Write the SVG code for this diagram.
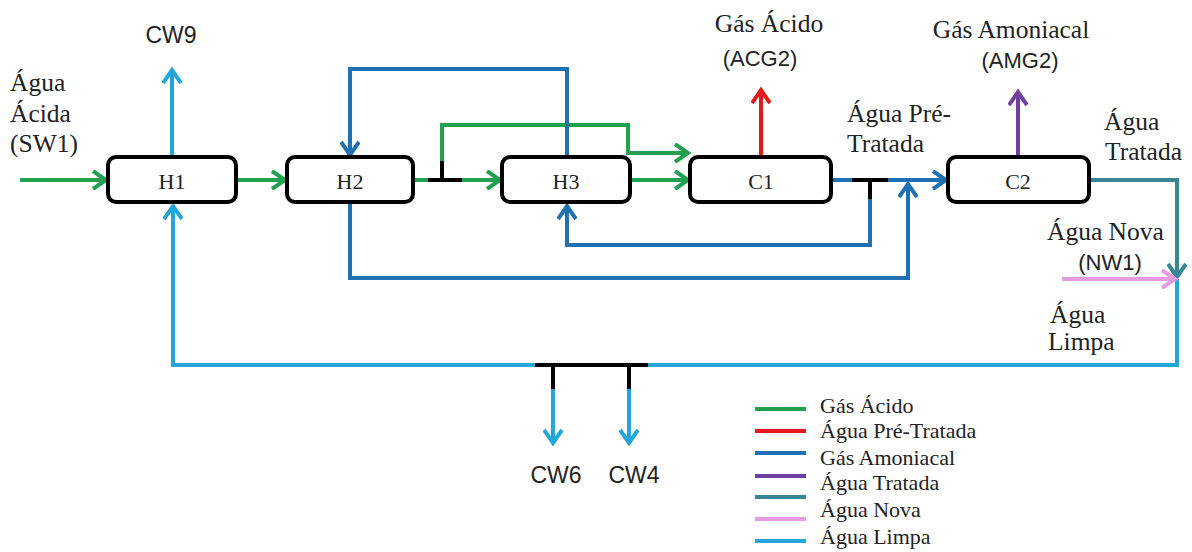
<svg xmlns="http://www.w3.org/2000/svg" width="1192" height="552" viewBox="0 0 1192 552">
<style>
.box{fill:#fff;stroke:#000;stroke-width:4}
.ln{fill:none;stroke-width:4;stroke-linejoin:miter}
.g{stroke:#21a050}.r{stroke:#e3191e}.b{stroke:#2070b4}.p{stroke:#6f3fa0}.t{stroke:#3a8595}.k{stroke:#e59be0}.c{stroke:#25a6d9}.bk{stroke:#000}
.serif{font-family:"Liberation Serif","Times New Roman",serif;fill:#222}
.sans{font-family:"Liberation Sans",Arial,sans-serif;fill:#222}
.lbl{font-size:25.5px}
.nd{font-size:22px;text-anchor:middle}
.sl{font-size:22px}
.cw{font-size:23px}
.lg{font-size:22px}
.mid{text-anchor:middle}
</style>
<defs>
<marker id="aG" markerUnits="userSpaceOnUse" markerWidth="20" markerHeight="20" viewBox="0 0 20 20" refX="16" refY="10" orient="auto"><path d="M3,1 L16,10 L3,19" fill="none" stroke="#21a050" stroke-width="4"/></marker>
<marker id="aR" markerUnits="userSpaceOnUse" markerWidth="20" markerHeight="20" viewBox="0 0 20 20" refX="16" refY="10" orient="auto"><path d="M3,1 L16,10 L3,19" fill="none" stroke="#e3191e" stroke-width="4"/></marker>
<marker id="aB" markerUnits="userSpaceOnUse" markerWidth="20" markerHeight="20" viewBox="0 0 20 20" refX="16" refY="10" orient="auto"><path d="M3,1 L16,10 L3,19" fill="none" stroke="#2070b4" stroke-width="4"/></marker>
<marker id="aP" markerUnits="userSpaceOnUse" markerWidth="20" markerHeight="20" viewBox="0 0 20 20" refX="16" refY="10" orient="auto"><path d="M3,1 L16,10 L3,19" fill="none" stroke="#6f3fa0" stroke-width="4"/></marker>
<marker id="aT" markerUnits="userSpaceOnUse" markerWidth="20" markerHeight="20" viewBox="0 0 20 20" refX="16" refY="10" orient="auto"><path d="M3,1 L16,10 L3,19" fill="none" stroke="#3a8595" stroke-width="4"/></marker>
<marker id="aK" markerUnits="userSpaceOnUse" markerWidth="20" markerHeight="20" viewBox="0 0 20 20" refX="16" refY="10" orient="auto"><path d="M3,1 L16,10 L3,19" fill="none" stroke="#e59be0" stroke-width="4"/></marker>
<marker id="aC" markerUnits="userSpaceOnUse" markerWidth="20" markerHeight="20" viewBox="0 0 20 20" refX="16" refY="10" orient="auto"><path d="M3,1 L16,10 L3,19" fill="none" stroke="#25a6d9" stroke-width="4"/></marker>
</defs>
<rect width="1192" height="552" fill="#fff"/>

<g id="connectors">
<path class="ln g" d="M20,180 H106" marker-end="url(#aG)"/>
<path class="ln g" d="M238,180 H285" marker-end="url(#aG)"/>
<path class="ln g" d="M415,180 H428"/>
<path class="ln bk" d="M428,180 H462"/>
<path class="ln g" d="M462,180 H500" marker-end="url(#aG)"/>
<path class="ln bk" d="M442,180 V160"/>
<path class="ln g" d="M442,161 V125 H628 V153 H688" marker-end="url(#aG)"/>
<path class="ln g" d="M632,180 H688" marker-end="url(#aG)"/>
<path class="ln b" d="M567,155 V69 H350 V155" marker-end="url(#aB)"/>
<path class="ln b" d="M350,204 V278 H908 V184" marker-end="url(#aB)"/>
<path class="ln b" d="M833,180 H852"/>
<path class="ln bk" d="M852,180 H888"/>
<path class="ln b" d="M888,180 H946" marker-end="url(#aB)"/>
<path class="ln bk" d="M870,180 V200"/>
<path class="ln b" d="M870,199 V245 H567 V206" marker-end="url(#aB)"/>
<path class="ln r" d="M761,155 V90" marker-end="url(#aR)"/>
<path class="ln p" d="M1018,155 V92" marker-end="url(#aP)"/>
<path class="ln t" d="M1091,180 H1177 V277" marker-end="url(#aT)"/>
<path class="ln c" d="M1177,279 V365 H648"/>
<path class="ln k" d="M1062,279 H1175" marker-end="url(#aK)"/>
<path class="ln bk" d="M648,365 H535"/>
<path class="ln c" d="M535,365 H173 V206" marker-end="url(#aC)"/>
<path class="ln bk" d="M553,365 V390"/>
<path class="ln c" d="M553,389 V443" marker-end="url(#aC)"/>
<path class="ln bk" d="M629,365 V390"/>
<path class="ln c" d="M629,389 V443" marker-end="url(#aC)"/>
<path class="ln c" d="M172,155 V70" marker-end="url(#aC)"/>
</g>

<g id="H1"><rect class="box" x="108" y="157" width="128" height="45" rx="8"/><text class="serif nd" x="172" y="189">H1</text></g>
<g id="H2"><rect class="box" x="287" y="157" width="126" height="45" rx="8"/><text class="serif nd" x="350" y="189">H2</text></g>
<g id="H3"><rect class="box" x="502" y="157" width="128" height="45" rx="8"/><text class="serif nd" x="566" y="189">H3</text></g>
<g id="C1"><rect class="box" x="690" y="157" width="141" height="45" rx="8"/><text class="serif nd" x="761" y="189">C1</text></g>
<g id="C2"><rect class="box" x="948" y="157" width="141" height="45" rx="8"/><text class="serif nd" x="1018" y="189">C2</text></g>

<g id="labels">
<text class="serif lbl" x="10" y="91">Água</text>
<text class="serif lbl" x="10" y="122">Ácida</text>
<text class="serif lbl" x="10" y="152">(SW1)</text>
<text class="sans cw mid" x="171" y="43">CW9</text>
<text class="serif lbl mid" x="769" y="32">Gás Ácido</text>
<text class="sans sl mid" x="760" y="66">(ACG2)</text>
<text class="serif lbl mid" x="1011" y="38">Gás Amoniacal</text>
<text class="sans sl mid" x="1020" y="68">(AMG2)</text>
<text class="serif lbl" x="847" y="122">Água Pré-</text>
<text class="serif lbl" x="847" y="152">Tratada</text>
<text class="serif lbl" x="1104" y="130">Água</text>
<text class="serif lbl" x="1105" y="160">Tratada</text>
<text class="serif lbl" x="1047" y="240">Água Nova</text>
<text class="sans sl mid" x="1110" y="270">(NW1)</text>
<text class="serif lbl" x="1050" y="323">Água</text>
<text class="serif lbl" x="1048" y="350">Limpa</text>
<text class="sans cw mid" x="556" y="483">CW6</text>
<text class="sans cw mid" x="634" y="483">CW4</text>
</g>

<g id="legend">
<path class="ln g" d="M755,409 H806"/>
<path class="ln r" d="M755,431 H806"/>
<path class="ln b" d="M755,453 H806"/>
<path class="ln p" d="M755,476 H806"/>
<path class="ln t" d="M755,497 H806"/>
<path class="ln k" d="M755,519 H806"/>
<path class="ln c" d="M755,541 H806"/>
<text class="serif lg" x="820" y="413">Gás Ácido</text>
<text class="serif lg" x="820" y="438">Água Pré-Tratada</text>
<text class="serif lg" x="820" y="465">Gás Amoniacal</text>
<text class="serif lg" x="820" y="490">Água Tratada</text>
<text class="serif lg" x="820" y="517">Água Nova</text>
<text class="serif lg" x="820" y="544">Água Limpa</text>
</g>
</svg>
